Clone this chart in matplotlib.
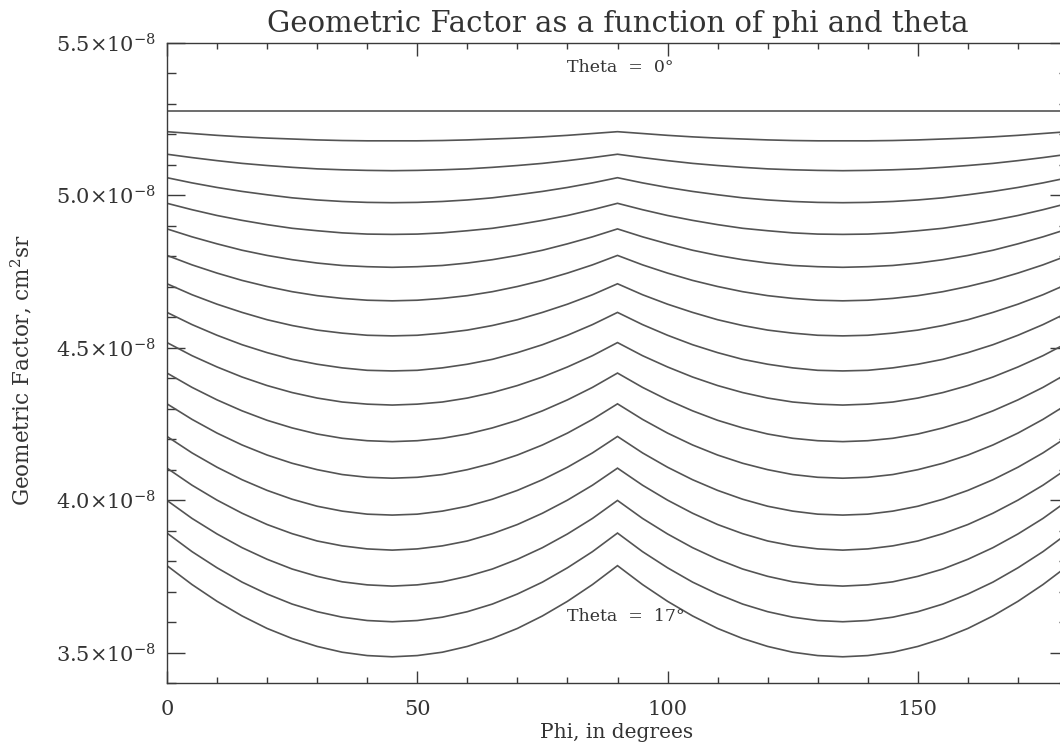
import numpy as np
import matplotlib
matplotlib.use("Agg")
import matplotlib.pyplot as plt
from matplotlib.ticker import MultipleLocator, FixedLocator, FuncFormatter

# phi samples over one quarter period (deg). Every curve is symmetric about
# 45 deg and repeats every 90 deg, so the quarter is mirrored to cover 0-180.
phi_quarter = [0, 5, 10, 15, 20, 25, 30, 35, 40, 45]

# geometric factor, units of 1e-8 cm^2 sr, top curve first
gf_01 = [5.278, 5.278, 5.278, 5.278, 5.278, 5.278, 5.278, 5.278, 5.278, 5.278]
gf_02 = [5.209, 5.203, 5.197, 5.192, 5.188, 5.185, 5.182, 5.180, 5.179, 5.179]
gf_03 = [5.135, 5.124, 5.114, 5.105, 5.098, 5.092, 5.087, 5.084, 5.082, 5.081]
gf_04 = [5.058, 5.041, 5.026, 5.013, 5.002, 4.992, 4.985, 4.980, 4.977, 4.976]
gf_05 = [4.974, 4.953, 4.934, 4.918, 4.904, 4.892, 4.884, 4.877, 4.873, 4.872]
gf_06 = [4.890, 4.864, 4.841, 4.820, 4.803, 4.789, 4.778, 4.770, 4.766, 4.764]
gf_07 = [4.803, 4.772, 4.745, 4.721, 4.701, 4.684, 4.671, 4.662, 4.656, 4.654]
gf_08 = [4.710, 4.674, 4.643, 4.616, 4.592, 4.573, 4.558, 4.548, 4.541, 4.539]
gf_09 = [4.616, 4.576, 4.541, 4.510, 4.484, 4.462, 4.446, 4.434, 4.426, 4.424]
gf_10 = [4.517, 4.474, 4.437, 4.404, 4.376, 4.353, 4.335, 4.322, 4.315, 4.312]
gf_11 = [4.417, 4.370, 4.329, 4.293, 4.262, 4.237, 4.217, 4.203, 4.195, 4.192]
gf_12 = [4.316, 4.265, 4.220, 4.181, 4.148, 4.121, 4.100, 4.084, 4.075, 4.072]
gf_13 = [4.209, 4.155, 4.108, 4.067, 4.032, 4.003, 3.980, 3.964, 3.954, 3.951]
gf_14 = [4.105, 4.049, 4.000, 3.957, 3.920, 3.890, 3.866, 3.850, 3.840, 3.836]
gf_15 = [3.999, 3.940, 3.889, 3.844, 3.806, 3.774, 3.750, 3.732, 3.722, 3.718]
gf_16 = [3.892, 3.831, 3.778, 3.731, 3.692, 3.659, 3.634, 3.616, 3.605, 3.601]
gf_17 = [3.785, 3.723, 3.668, 3.620, 3.579, 3.546, 3.520, 3.501, 3.490, 3.486]
curves = [gf_01, gf_02, gf_03, gf_04, gf_05, gf_06, gf_07, gf_08, gf_09,
          gf_10, gf_11, gf_12, gf_13, gf_14, gf_15, gf_16, gf_17]

yticks = [3.5e-8, 4.0e-8, 4.5e-8, 5.0e-8, 5.5e-8]
xticks = [0, 50, 100, 150]

plt.rcParams['font.family'] = ['DejaVu Serif']
plt.rcParams['mathtext.fontset'] = 'dejavuserif'

W, H = 1060, 749
fig = plt.figure(figsize=(W / 100, H / 100), dpi=100)
fig.patch.set_facecolor('white')
# plot box: x 167..1068 px (runs a little past the right edge), y 43..683 px
ax = fig.add_axes([167 / W, (H - 683) / H, 901 / W, 640 / H])

q = np.array(phi_quarter)
phi_half = np.concatenate([q, 90 - q[-2::-1]])
phi = np.concatenate([phi_half, 90 + phi_half[1:]])
for c in curves:
    v = np.array(c)
    half = np.concatenate([v, v[-2::-1]])
    vals = np.concatenate([half, half[1:]]) * 1e-8
    ax.plot(phi, vals, color='#545454', lw=1.2, solid_joinstyle='miter')

ax.set_xlim(0, 180)
ax.set_ylim(3.4e-8, 5.5e-8)

ax.xaxis.set_major_locator(FixedLocator(xticks))
ax.xaxis.set_minor_locator(MultipleLocator(10))
ax.yaxis.set_major_locator(FixedLocator(yticks))
ax.yaxis.set_minor_locator(MultipleLocator(0.1e-8))
ax.yaxis.set_major_formatter(FuncFormatter(
    lambda v, p: r'$%.1f{\times}10^{-8}$' % (v * 1e8)))

ax.tick_params(which='both', direction='in', top=True, right=True,
               color='#3a3a3a', width=1.0, labelcolor='#333333')
ax.xaxis.set_tick_params(which='major', length=9, pad=12, labelsize=15)
ax.xaxis.set_tick_params(which='minor', length=4.5)
ax.yaxis.set_tick_params(which='major', length=13, pad=8, labelsize=15)
ax.yaxis.set_tick_params(which='minor', length=6.5)
for s in ax.spines.values():
    s.set_color('#3a3a3a')
    s.set_linewidth(1.0)

ax.set_title('Geometric Factor as a function of phi and theta',
             fontsize=21, color='#333333', pad=8)
fig.text(617 / W, 1 - 733 / H, 'Phi, in degrees', ha='center', va='center',
         fontsize=14.5, color='#333333')
fig.text(22 / W, 1 - 370 / H, r'Geometric Factor, cm$^2$sr', ha='center',
         va='center', rotation=90, fontsize=15.5, color='#333333')

ax.text(80, 5.418e-8, 'Theta  =  0°', ha='left', va='center', fontsize=12.5,
        color='#333333')
ax.text(80, 3.617e-8, 'Theta  =  17°', ha='left', va='center', fontsize=12.5,
        color='#333333')

fig.savefig('out.png', dpi=100)
